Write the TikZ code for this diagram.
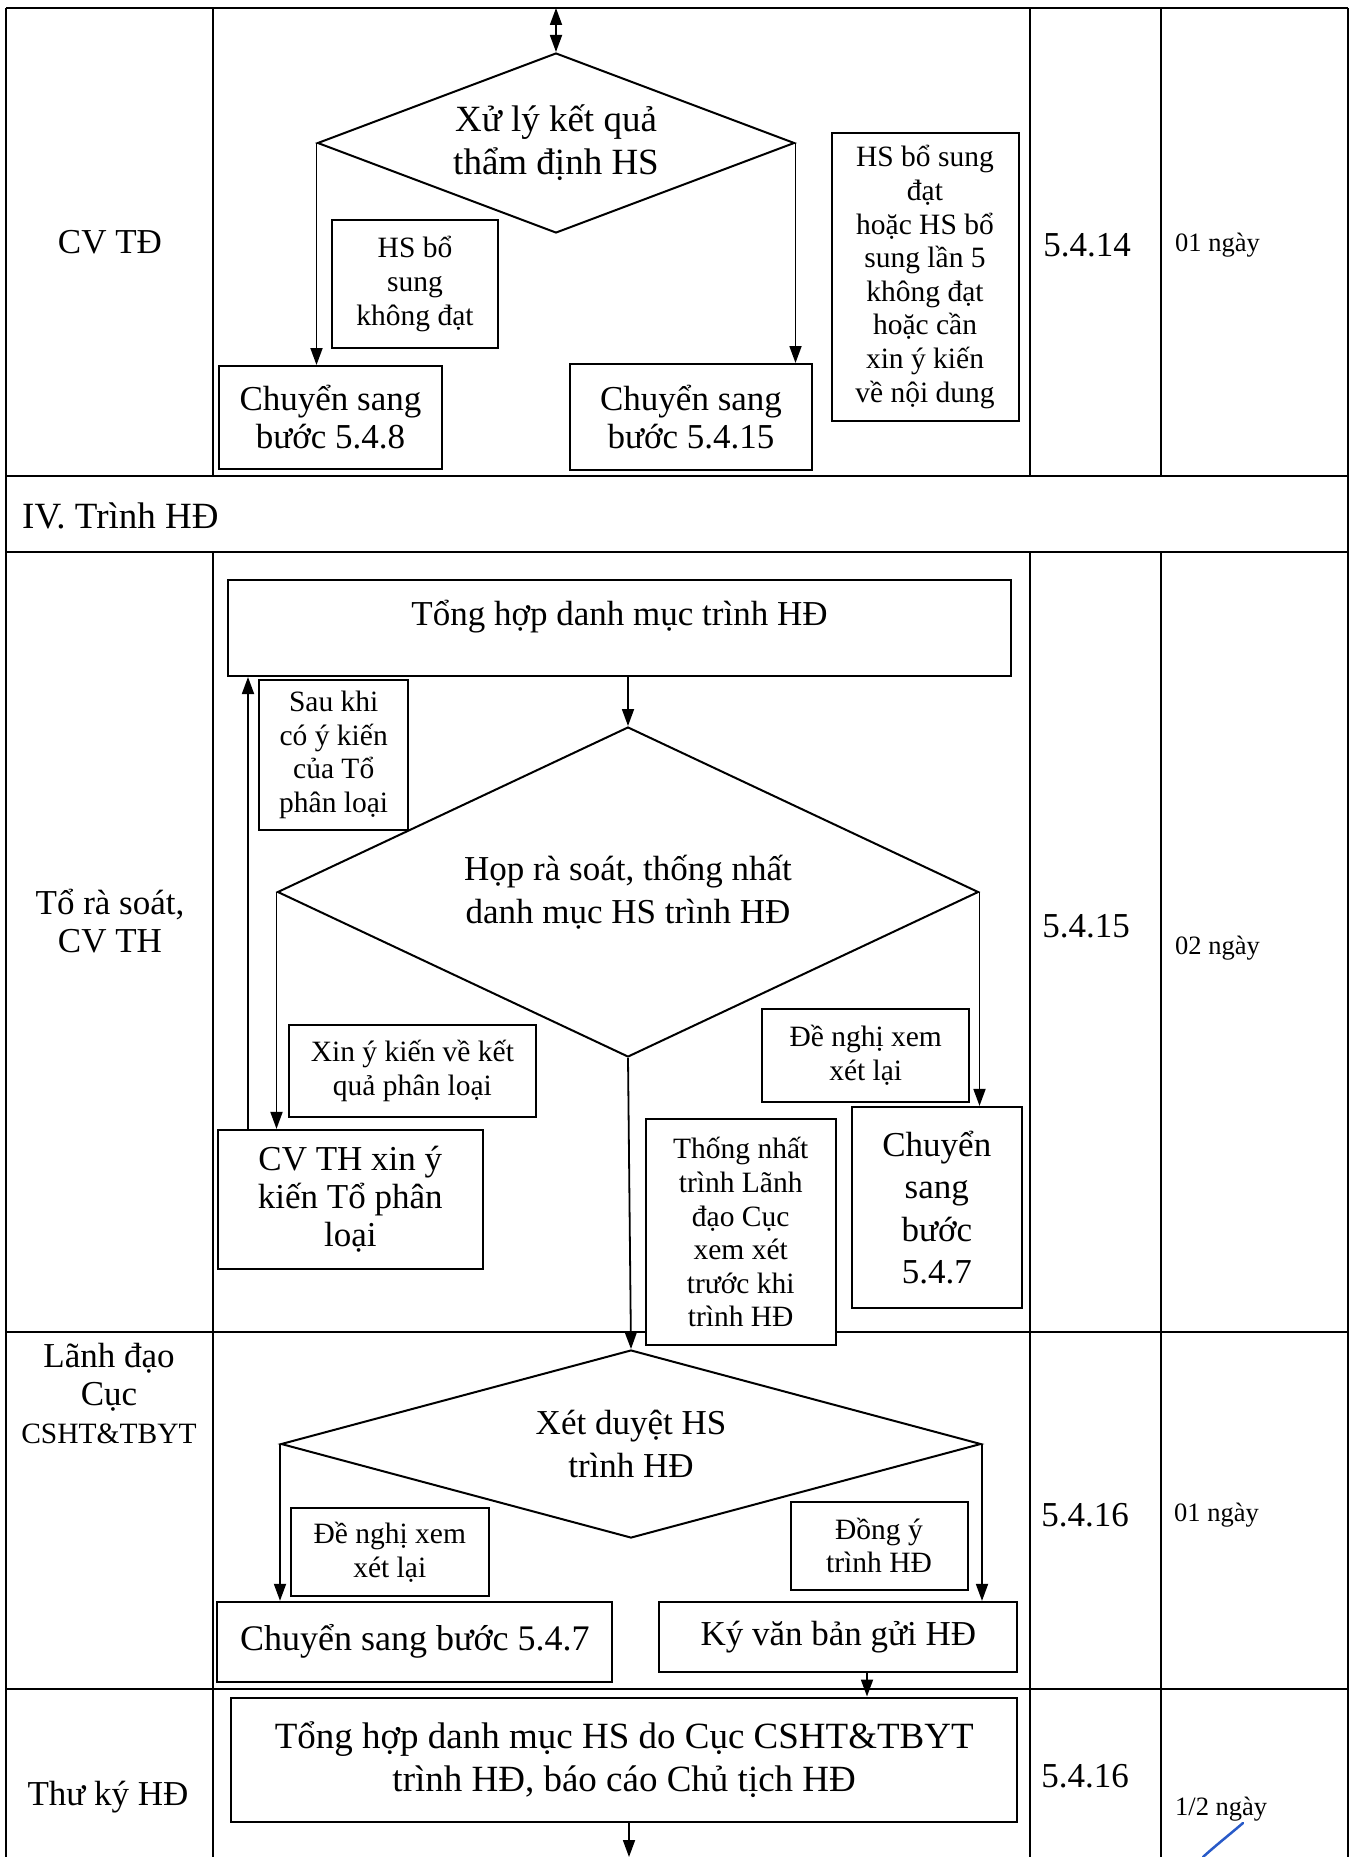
\documentclass[tikz,border=0pt]{standalone}
\usepackage{fontspec}
\setmainfont{Liberation Serif}
\usetikzlibrary{arrows.meta,shapes.geometric}

% type sizes (1pt of picture = 1px of the page image)
\newcommand{\szMain}{\fontsize{35}{38}\selectfont}
\newcommand{\szMainLoose}{\fontsize{35}{42.5}\selectfont}
\newcommand{\szBig}{\fontsize{37}{43}\selectfont}
\newcommand{\szHead}{\fontsize{37}{43}\selectfont}
\newcommand{\szLabel}{\fontsize{29.5}{33.6}\selectfont}
\newcommand{\szDay}{\fontsize{26.5}{30}\selectfont}

\begin{document}
\begin{tikzpicture}[x=1pt,y=-1pt,
  grid/.style={line width=2pt},
  rowline/.style={line width=2.8pt},
  box/.style={draw, line width=2pt, fill=white, inner sep=0pt, align=center, font=\szMain},
  lbl/.style={draw, line width=2pt, fill=white, inner sep=0pt, align=center, font=\szLabel},
  dec/.style={draw, line width=2pt, fill=white, shape=diamond, inner sep=0pt, align=center, font=\szMainLoose},
  arr/.style={line width=1.8pt, -{Triangle[length=17pt,width=12pt]}},
  coltxt/.style={inner sep=0pt, align=center, font=\szMain},
  daytxt/.style={inner sep=0pt, anchor=west, font=\szDay},
]
\fill[white] (0,0) rectangle (1356,1857);
\useasboundingbox (0,0) rectangle (1356,1857);

% ---- table frame ----
\draw[grid] (6,8) -- (1348,8);
\draw[grid] (6,8) -- (6,1857);
\draw[grid] (1348,8) -- (1348,1857);
\foreach \cx in {213,1030,1161} {
  \draw[grid] (\cx,8) -- (\cx,476);
  \draw[grid] (\cx,552) -- (\cx,1857);
}
\draw[rowline] (6,476) -- (1348,476);
\draw[rowline] (6,552) -- (1348,552);
\draw[rowline] (6,1332) -- (1348,1332);
\draw[rowline] (6,1689) -- (1348,1689);

% ---- side columns ----
\node[coltxt] (r1who) at (110,242) {CV TĐ};
\node[coltxt] (r1step) at (1087,245) {5.4.14};
\node[daytxt] (r1day) at (1175,245) {01 ngày};
\node[coltxt, anchor=west, font=\szHead] (sec4) at (22,516) {IV. Trình HĐ};
\node[coltxt] (r2who) at (110,921) {Tổ rà soát,\\CV TH};
\node[coltxt] (r2step) at (1086,926) {5.4.15};
\node[daytxt] (r2day) at (1175,948) {02 ngày};
\node[coltxt] (r3who) at (109,1393) {Lãnh đạo\\Cục\\{\szLabel CSHT\&TBYT}};
\node[coltxt] (r3step) at (1085,1515) {5.4.16};
\node[daytxt] (r3day) at (1174,1515) {01 ngày};
\node[coltxt] (r4who) at (108,1797) {Thư ký HĐ};
\node[coltxt] (r4step) at (1085,1776) {5.4.16};
\node[daytxt] (r4day) at (1175,1809) {1/2 ngày};

% ---- step 5.4.14 ----
\node[dec, font=\szBig, minimum width=477pt, minimum height=180pt, aspect=2.65] (d1) at (556,143) {Xử lý kết quả\\thẩm định HS};
\node[box, minimum width=223pt, minimum height=103pt] (b548) at (330.5,417.5) {Chuyển sang\\bước 5.4.8};
\node[box, minimum width=242pt, minimum height=106pt] (b5415) at (691,417) {Chuyển sang\\bước 5.4.15};
\node[lbl, minimum width=166pt, minimum height=128pt] (lbl1) at (415,284) {HS bổ\\sung\\không đạt};
\node[lbl, minimum width=187pt, minimum height=288pt] (lbl2) at (925,277) {HS bổ sung\\đạt\\hoặc HS bổ\\sung lần 5\\không đạt\\hoặc cần\\xin ý kiến\\về nội dung};

% ---- step 5.4.15 ----
\node[box, minimum width=783pt, minimum height=96pt, text height=28pt, text depth=34pt] (t1) at (619.5,628) {Tổng hợp danh mục trình HĐ};
\node[dec, minimum width=701pt, minimum height=330pt, aspect=2.124] (d2) at (628,892) {Họp rà soát, thống nhất\\danh mục HS trình HĐ};
\node[lbl, minimum width=149pt, minimum height=150pt] (lbl3) at (333.7,754.8) {Sau khi\\có ý kiến\\của Tổ\\phân loại};
\node[lbl, minimum width=247pt, minimum height=92pt] (lbl4) at (412.4,1071.2) {Xin ý kiến về kết\\quả phân loại};
\node[lbl, minimum width=207pt, minimum height=93pt] (lbl5) at (865.7,1055) {Đề nghị xem\\xét lại};
\node[box, minimum width=265pt, minimum height=139pt] (cvth) at (350.3,1199.4) {CV TH xin ý\\kiến Tổ phân\\loại};
\node[box, font=\szMainLoose, minimum width=170pt, minimum height=201pt] (b547v) at (936.8,1207.4) {Chuyển\\sang\\bước\\5.4.7};
\node[lbl, minimum width=190pt, minimum height=226pt] (lbl6) at (740.7,1232.3) {Thống nhất\\trình Lãnh\\đạo Cục\\xem xét\\trước khi\\trình HĐ};

% ---- step 5.4.16 (leadership) ----
\node[dec, minimum width=700pt, minimum height=188pt, aspect=3.72] (d3) at (631,1444) {Xét duyệt HS\\trình HĐ};
\node[lbl, minimum width=198pt, minimum height=88pt] (lbl7) at (389.8,1552.2) {Đề nghị xem\\xét lại};
\node[lbl, minimum width=177pt, minimum height=88pt] (lbl8) at (879,1545.6) {Đồng ý\\trình HĐ};
\node[box, font=\fontsize{36}{40}\selectfont, minimum width=395pt, minimum height=80pt] (b547h) at (414.9,1641.8) {Chuyển sang bước 5.4.7};
\node[box, minimum width=358pt, minimum height=70pt] (ky) at (838.4,1636.9) {Ký văn bản gửi HĐ};

% ---- step 5.4.16 (secretary) ----
\node[box, font=\szBig, minimum width=786pt, minimum height=124pt] (th2) at (624.2,1759.5) {Tổng hợp danh mục HS do Cục CSHT\&TBYT\\trình HĐ, báo cáo Chủ tịch HĐ};

% ---- connectors ----
\coordinate (topin) at (556,8);
\draw[line width=1.8pt, {Triangle[length=17pt,width=12pt]}-{Triangle[length=17pt,width=12pt]}] (topin) -- (d1.north);
\draw[arr] (d1.west) -- (d1.west |- b548.north);
\draw[arr] (d1.east) -- (d1.east |- b5415.north);

\draw[arr] (t1.south -| d2.north) -- (d2.north);
\draw[arr] (d2.west) -- (d2.west |- cvth.north);
\coordinate (backx) at (248,0);
\draw[arr] (cvth.north -| backx) -- (t1.south -| backx);
\draw[arr] (d2.east) -- (d2.east |- b547v.north);
\draw[arr] (d2.south) -- (d3.north);

\draw[arr] (d3.west) -- (d3.west |- b547h.north);
\draw[arr] (d3.east) -- (d3.east |- ky.north);
\coordinate (kyx) at (867,0);
\draw[arr] (ky.south -| kyx) -- (th2.north -| kyx);
\coordinate (endpt) at (629,1857);
\draw[arr] (th2.south -| endpt) -- (endpt);

% ---- pen stroke in the last row ----
\definecolor{inkblue}{RGB}{40,90,200}
\draw[inkblue, line width=2.5pt, line cap=round] (1243,1823) .. controls (1229,1835) and (1215,1846) .. (1203,1857);
\end{tikzpicture}
\end{document}
